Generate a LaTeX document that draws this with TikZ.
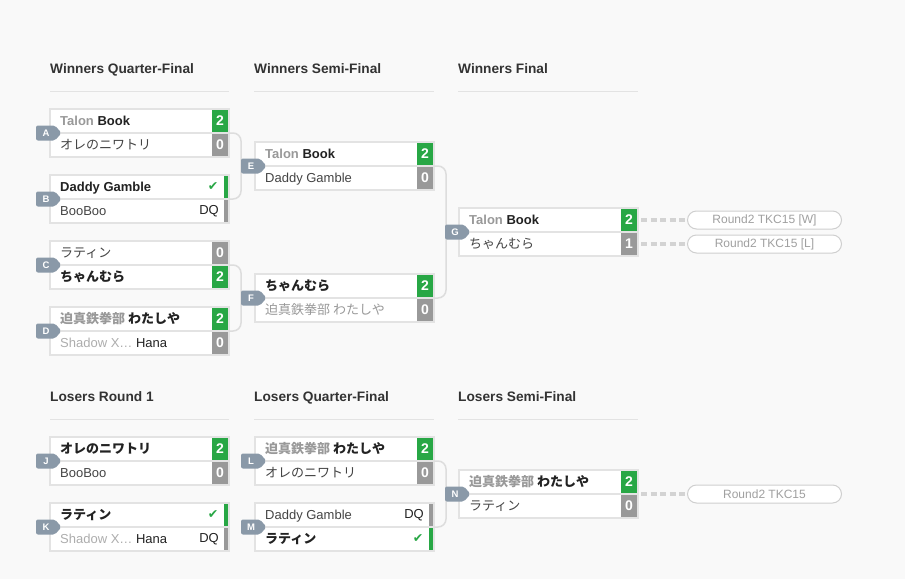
\documentclass[tikz,border=0pt]{standalone}
\usepackage{fontspec}
\setmainfont{Liberation Sans}
\newfontfamily\jp{Noto Sans CJK JP}
\newfontfamily\djv{DejaVu Sans}
\usetikzlibrary{calc}
\definecolor{bgc}{HTML}{F9F9F9}
\definecolor{boxline}{HTML}{E3E3E3}
\definecolor{connc}{HTML}{DDDDDD}
\definecolor{wingreen}{HTML}{28A745}
\definecolor{losegray}{HTML}{999999}
\definecolor{tagcol}{HTML}{8A99A8}
\definecolor{wintxt}{HTML}{222222}
\definecolor{losetxt}{HTML}{444444}
\definecolor{pfx}{HTML}{999999}
\definecolor{hdrcol}{HTML}{333333}
\definecolor{pillc}{HTML}{CFCFCF}
\definecolor{pilltxt}{HTML}{A0A0A0}
\definecolor{dashc}{HTML}{D3D3D3}
\newcommand\gp[1]{\textcolor{pfx}{#1}}
\newcommand\wn[1]{\textcolor{wintxt}{\bfseries #1}}
\newcommand\bmatch[5]{%
  \node[matchbox] (#1) at (#2+89.5,#3+24) {};
  \draw[divline] (#1.west) -- (#1.east);
  \coordinate (#1-r) at (#1.east);
  \coordinate (#1-c1) at ($(#1.east)+(0,-12)$);
  \coordinate (#1-c2) at ($(#1.east)+(0,12)$);
  \node[ptxt] (#1-p1) at ($(#1.west)+(10,-7.5)$) {#4};
  \node[ptxt] (#1-p2) at ($(#1.west)+(10,16.5)$) {#5};
}
\newcommand\score[4]{\node[scorebox, fill=#4] (#1-s#2) at ($(#1-c#2)+(-9,0)$) {#3};}
\newcommand\winbar[2]{%
  \node[barbox, fill=wingreen] (#1-b#2) at ($(#1-c#2)+(-3,0)$) {};
  \node[chk] (#1-k#2) at ($(#1-c#2)+(-16,0)$) {\djv ✔};}
\newcommand\dqbar[2]{%
  \node[barbox, fill=losegray] (#1-b#2) at ($(#1-c#2)+(-3,0)$) {};
  \node[dqtxt] (#1-d#2) at ($(#1-c#2)+(-10,0)$) {DQ};}
\newcommand\mtag[2]{%
  \fill[tagcol, rounded corners=2pt] ($(#2.west)+(-14,-7.5)$) -- ($(#2.west)+(5,-7.5)$) -- ($(#2.west)+(11.5,0)$) -- ($(#2.west)+(5,7.5)$) -- ($(#2.west)+(-14,7.5)$) -- cycle;
  \node[tagtxt] (tag#1) at ($(#2.west)+(-4,0)$) {#1};}
\begin{document}
\begin{tikzpicture}[x=1pt,y=-1pt,
 matchbox/.style={draw=boxline, line width=2pt, fill=white, minimum width=179pt, minimum height=48pt, inner sep=0pt, outer sep=0pt},
 divline/.style={draw=boxline, line width=1.5pt},
 ptxt/.style={anchor=base west, inner sep=0pt, font=\fontsize{13}{15}\selectfont, text=losetxt},
 scorebox/.style={minimum width=16pt, minimum height=22pt, inner sep=0pt, text=white, font=\fontsize{14}{15}\selectfont\bfseries},
 barbox/.style={minimum width=4pt, minimum height=22pt, inner sep=0pt},
 chk/.style={text=wingreen, inner sep=0pt, font=\fontsize{12.5}{13}\selectfont},
 dqtxt/.style={anchor=east, inner sep=0pt, text=wintxt, font=\fontsize{13}{15}\selectfont},
 tagtxt/.style={text=white, inner sep=0pt, font=\fontsize{9.5}{10}\selectfont\bfseries},
 hdr/.style={anchor=base west, inner sep=0pt, text=hdrcol, font=\fontsize{13.7}{16}\selectfont\bfseries},
 hline/.style={draw=boxline, line width=1pt},
 conn/.style={draw=connc, line width=1.5pt, rounded corners=8pt},
 pill/.style={draw=pillc, line width=1pt, rounded corners=9pt, minimum width=154pt, minimum height=18pt, inner sep=0pt, text=pilltxt, font=\fontsize{12}{14}\selectfont, fill=white},
 dashl/.style={draw=dashc, line width=3.5pt, dash pattern=on 6pt off 3.5pt}]
\useasboundingbox (0,0) rectangle (905,579);
\fill[bgc] (0,0) rectangle (905,579);
% headers
\node[hdr] (h1) at (50,73) {Winners Quarter-Final};
\node[hdr] (h2) at (254,73) {Winners Semi-Final};
\node[hdr] (h3) at (458,73) {Winners Final};
\node[hdr] (h4) at (50,401) {Losers Round 1};
\node[hdr] (h5) at (254,401) {Losers Quarter-Final};
\node[hdr] (h6) at (458,401) {Losers Semi-Final};
\draw[hline] (50,91) -- (229,91);
\draw[hline] (254,91) -- (434,91);
\draw[hline] (458,91) -- (638,91);
\draw[hline] (50,419) -- (229,419);
\draw[hline] (254,419) -- (434,419);
\draw[hline] (458,419) -- (638,419);
% winners
\bmatch{A}{50}{109}{{\bfseries\gp{Talon}} \wn{Book}}{{\jp オレのニワトリ}}
\score{A}{1}{2}{wingreen}\score{A}{2}{0}{losegray}
\bmatch{B}{50}{175}{\wn{Daddy Gamble}}{BooBoo}
\winbar{B}{1}\dqbar{B}{2}
\bmatch{C}{50}{241}{{\jp ラティン}}{\wn{\jp ちゃんむら}}
\score{C}{1}{0}{losegray}\score{C}{2}{2}{wingreen}
\bmatch{D}{50}{307}{{\jp\bfseries\gp{迫真鉄拳部} \textcolor{wintxt}{わたしや}}}{\textcolor{pfx!80}{Shadow X…} \textcolor{wintxt}{Hana}}
\score{D}{1}{2}{wingreen}\score{D}{2}{0}{losegray}
\bmatch{E}{255}{142}{{\bfseries\gp{Talon}} \wn{Book}}{Daddy Gamble}
\score{E}{1}{2}{wingreen}\score{E}{2}{0}{losegray}
\bmatch{F}{255}{274}{\wn{\jp ちゃんむら}}{{\jp\gp{迫真鉄拳部 わたしや}}}
\score{F}{1}{2}{wingreen}\score{F}{2}{0}{losegray}
\bmatch{G}{459}{208}{{\bfseries\gp{Talon}} \wn{Book}}{{\jp ちゃんむら}}
\score{G}{1}{2}{wingreen}\score{G}{2}{1}{losegray}
% losers
\bmatch{J}{50}{437}{\wn{\jp オレのニワトリ}}{BooBoo}
\score{J}{1}{2}{wingreen}\score{J}{2}{0}{losegray}
\bmatch{K}{50}{503}{\wn{\jp ラティン}}{\textcolor{pfx!80}{Shadow X…} \textcolor{wintxt}{Hana}}
\winbar{K}{1}\dqbar{K}{2}
\bmatch{L}{255}{437}{{\jp\bfseries\gp{迫真鉄拳部} \textcolor{wintxt}{わたしや}}}{{\jp オレのニワトリ}}
\score{L}{1}{2}{wingreen}\score{L}{2}{0}{losegray}
\bmatch{M}{255}{503}{Daddy Gamble}{\wn{\jp ラティン}}
\dqbar{M}{1}\winbar{M}{2}
\bmatch{N}{459}{470}{{\jp\bfseries\gp{迫真鉄拳部} \textcolor{wintxt}{わたしや}}}{{\jp ラティン}}
\score{N}{1}{2}{wingreen}\score{N}{2}{0}{losegray}
% connectors
\draw[conn] (A-r) -- ++(12,0) |- (B-r);
\draw[conn] (C-r) -- ++(12,0) |- (D-r);
\draw[conn] (E-r) -- ++(12,0) |- (F-r);
\draw[conn] (L-r) -- ++(12,0) |- (M-r);
% tags
\mtag{A}{A}\mtag{B}{B}\mtag{C}{C}\mtag{D}{D}
\mtag{E}{E}\mtag{F}{F}\mtag{G}{G}
\mtag{J}{J}\mtag{K}{K}\mtag{L}{L}\mtag{M}{M}\mtag{N}{N}
% next rounds
\node[pill] (rW) at (764.5,220) {Round2 TKC15 [W]};
\node[pill] (rL) at (764.5,244) {Round2 TKC15 [L]};
\node[pill] (rN) at (764.5,494) {Round2 TKC15};
\draw[dashl] ([xshift=4pt]G-s1.east) -- (rW.west);
\draw[dashl] ([xshift=4pt]G-s2.east) -- (rL.west);
\draw[dashl] ([xshift=3pt]N-r) -- (rN.west);
\end{tikzpicture}
\end{document}
